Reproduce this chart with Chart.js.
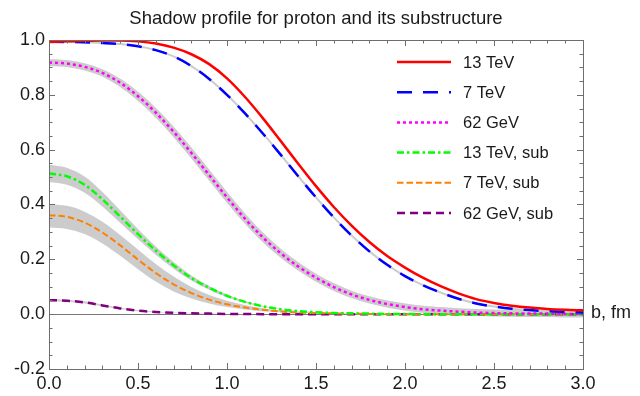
<!DOCTYPE html>
<html>
<head>
<meta charset="utf-8">
<script src="https://cdn.jsdelivr.net/npm/chart.js@4.4.1/dist/chart.umd.min.js"></script>
<style>
  html, body { margin: 0; padding: 0; background: #fff; }
  #profileChart { display: block; }
</style>
</head>
<body>
<canvas id="profileChart" width="640" height="396"></canvas>
<script>
// impact parameter b, fm
const bValues = [0.0, 0.1, 0.2, 0.3, 0.4, 0.5, 0.6, 0.7, 0.8, 0.9, 1.0, 1.1, 1.2, 1.3, 1.4, 1.5,
  1.6, 1.7, 1.8, 1.9, 2.0, 2.1, 2.2, 2.3, 2.4, 2.5, 2.6, 2.7, 2.8, 2.9, 3.0];

// full proton profiles
const tev13 = [0.993, 0.995, 0.997, 0.998, 0.998, 0.995, 0.987, 0.972, 0.948, 0.912, 0.860, 0.793, 0.716, 0.633, 0.549, 0.467,
  0.391, 0.323, 0.263, 0.212, 0.170, 0.133, 0.102, 0.076, 0.055, 0.041, 0.031, 0.024, 0.019, 0.016, 0.014];
const tev7 = [0.994, 0.993, 0.992, 0.989, 0.985, 0.977, 0.963, 0.940, 0.905, 0.858, 0.800, 0.733, 0.660, 0.583, 0.503, 0.426,
  0.353, 0.287, 0.229, 0.180, 0.139, 0.106, 0.079, 0.056, 0.039, 0.028, 0.020, 0.015, 0.011, 0.008, 0.006];
const gev62 = [0.918, 0.914, 0.902, 0.880, 0.844, 0.795, 0.735, 0.665, 0.588, 0.507, 0.426, 0.349, 0.281, 0.223, 0.174, 0.133,
  0.099, 0.072, 0.052, 0.037, 0.026, 0.018, 0.013, 0.009, 0.006, 0.004, 0.003, 0.002, 0.002, 0.001, 0.001];

// substructure profiles + error bands
const tev13Sub = [0.513, 0.503, 0.472, 0.419, 0.356, 0.292, 0.232, 0.178, 0.132, 0.096, 0.067, 0.045, 0.029, 0.018, 0.011, 0.007,
  0.004, 0.003, 0.002, 0.001, 0.001, 0, 0, 0, 0, 0, 0, 0, 0, 0, 0];
const tev13SubHi = [0.545, 0.534, 0.502, 0.446, 0.379, 0.311, 0.247, 0.190, 0.141, 0.103, 0.072, 0.048, 0.031, 0.019, 0.012, 0.008,
  0.005, 0.003, 0.002, 0.001, 0.001, 0, 0, 0, 0, 0, 0, 0, 0, 0, 0];
const tev13SubLo = [0.482, 0.472, 0.443, 0.393, 0.333, 0.273, 0.217, 0.166, 0.123, 0.089, 0.062, 0.042, 0.027, 0.017, 0.010, 0.006,
  0.004, 0.003, 0.002, 0.001, 0.001, 0, 0, 0, 0, 0, 0, 0, 0, 0, 0];

const tev7Sub = [0.361, 0.355, 0.334, 0.298, 0.251, 0.199, 0.150, 0.109, 0.077, 0.053, 0.036, 0.024, 0.016, 0.010, 0.006, 0.004,
  0.003, 0.002, 0.001, 0.001, 0, 0, 0, 0, 0, 0, 0, 0, 0, 0, 0];
const tev7SubHi = [0.401, 0.395, 0.374, 0.337, 0.289, 0.236, 0.183, 0.137, 0.099, 0.070, 0.049, 0.033, 0.022, 0.014, 0.009, 0.006,
  0.004, 0.003, 0.002, 0.001, 0.001, 0, 0, 0, 0, 0, 0, 0, 0, 0, 0];
const tev7SubLo = [0.316, 0.311, 0.292, 0.258, 0.213, 0.164, 0.119, 0.083, 0.057, 0.039, 0.026, 0.017, 0.011, 0.007, 0.004, 0.003,
  0.002, 0.001, 0.001, 0, 0, 0, 0, 0, 0, 0, 0, 0, 0, 0, 0];

const gev62Sub = [0.051, 0.049, 0.043, 0.032, 0.021, 0.013, 0.008, 0.005, 0.003, 0.002, 0.001, 0.001, 0, 0, 0, 0,
  0, 0, 0, 0, 0, 0, 0, 0, 0, 0, 0, 0, 0, 0, 0];
const gev62SubHi = [0.055, 0.053, 0.047, 0.035, 0.023, 0.015, 0.009, 0.006, 0.004, 0.002, 0.001, 0.001, 0, 0, 0, 0,
  0, 0, 0, 0, 0, 0, 0, 0, 0, 0, 0, 0, 0, 0, 0];
const gev62SubLo = [0.047, 0.045, 0.039, 0.029, 0.019, 0.011, 0.007, 0.004, 0.002, 0.001, 0.001, 0, 0, 0, 0, 0,
  0, 0, 0, 0, 0, 0, 0, 0, 0, 0, 0, 0, 0, 0, 0];

const xTickStep = 0.5;
const yTickStep = 0.2;

const FONT = '"Liberation Sans", Arial, sans-serif';
const BAND = "rgb(204,204,204)";

const pts = (arr) => arr.map((v, i) => ({ x: bValues[i], y: v }));

function line(label, data, color, width, dash) {
  return {
    label: label,
    data: pts(data),
    borderColor: color,
    borderWidth: width,
    borderDash: dash,
    borderCapStyle: "butt",
    pointRadius: 0,
    fill: false,
    cubicInterpolationMode: "monotone",
    order: 0,
    isMain: true,
  };
}

function bandEdge(data, fillTo) {
  return {
    label: "",
    data: pts(data),
    borderWidth: 0,
    borderColor: "rgba(0,0,0,0)",
    backgroundColor: BAND,
    pointRadius: 0,
    fill: fillTo,
    cubicInterpolationMode: "monotone",
    order: 5,
  };
}

function underlay(data, width) {
  return {
    label: "",
    data: pts(data),
    borderColor: BAND,
    borderWidth: width,
    pointRadius: 0,
    fill: false,
    cubicInterpolationMode: "monotone",
    order: 4,
  };
}

const datasets = [
  line("13 TeV", tev13, "rgb(255,0,0)", 2.5, []),
  line("7 TeV", tev7, "rgb(0,0,255)", 2.5, [15, 11]),
  line("62 GeV", gev62, "rgb(255,0,255)", 2.5, [3, 3]),
  line("13 TeV, sub", tev13Sub, "rgb(0,255,0)", 2.5, [7, 3, 2.5, 3]),
  line("7 TeV, sub", tev7Sub, "rgb(255,128,0)", 2, [6.5, 3]),
  line("62 GeV, sub", gev62Sub, "rgb(128,0,128)", 2.5, [8, 5]),
  bandEdge(tev13SubHi, "+1"),
  bandEdge(tev13SubLo, false),
  bandEdge(tev7SubHi, "+1"),
  bandEdge(tev7SubLo, false),
  bandEdge(gev62SubHi, "+1"),
  bandEdge(gev62SubLo, false),
  underlay(gev62, 7),
  underlay(tev7, 2),
];

// frame with inward ticks on all sides, zero line, legend and axis label
const frameDecor = {
  id: "frameDecor",
  beforeDatasetsDraw(chart) {
    const { ctx, chartArea: a, scales } = chart;
    const y0 = scales.y.getPixelForValue(0);
    ctx.save();
    ctx.strokeStyle = "#777";
    ctx.lineWidth = 1;
    ctx.beginPath();
    ctx.moveTo(a.left, Math.round(y0) + 0.5);
    ctx.lineTo(a.right, Math.round(y0) + 0.5);
    ctx.stroke();
    ctx.restore();
  },
  afterDatasetsDraw(chart) {
    const { ctx, chartArea: a, scales } = chart;
    ctx.save();
    ctx.strokeStyle = "#6e6e6e";
    ctx.lineWidth = 1;
    ctx.strokeRect(Math.round(a.left) + 0.5, Math.round(a.top) + 0.5,
      Math.round(a.right - a.left), Math.round(a.bottom - a.top));
    ctx.beginPath();
    for (let i = 0; i <= 30; i++) {
      const px = Math.round(scales.x.getPixelForValue(i / 10)) + 0.5;
      const len = i % 5 === 0 ? 6 : 3.5;
      ctx.moveTo(px, a.bottom); ctx.lineTo(px, a.bottom - len);
      ctx.moveTo(px, a.top); ctx.lineTo(px, a.top + len);
    }
    for (let i = -4; i <= 20; i++) {
      const py = Math.round(scales.y.getPixelForValue(i * 0.05)) + 0.5;
      const len = i % 4 === 0 ? 6 : 3.5;
      ctx.moveTo(a.left, py); ctx.lineTo(a.left + len, py);
      ctx.moveTo(a.right, py); ctx.lineTo(a.right - len, py);
    }
    ctx.stroke();
    ctx.restore();
  },
  afterDraw(chart) {
    const { ctx, chartArea: a, scales } = chart;
    ctx.save();
    // legend
    const mains = chart.data.datasets.filter((d) => d.isMain);
    ctx.font = "16.5px " + FONT;
    ctx.textBaseline = "middle";
    ctx.textAlign = "left";
    mains.forEach((ds, i) => {
      const y = 62 + i * 30.2;
      ctx.strokeStyle = ds.borderColor;
      ctx.lineWidth = ds.borderWidth;
      ctx.setLineDash(ds.borderDash);
      ctx.beginPath();
      ctx.moveTo(397, y);
      ctx.lineTo(451, y);
      ctx.stroke();
      ctx.setLineDash([]);
      ctx.fillStyle = "#1a1a1a";
      ctx.fillText(ds.label, 463, y + 1);
    });
    // axis label
    ctx.font = "18px " + FONT;
    ctx.fillText("b, fm", a.right + 8, scales.y.getPixelForValue(0) - 1);
    ctx.restore();
  },
};

const ctx = document.getElementById("profileChart").getContext("2d");

new Chart(ctx, {
  type: "line",
  data: { datasets: datasets },
  options: {
    responsive: false,
    animation: false,
    devicePixelRatio: 1,
    layout: { padding: { left: 0, right: 57, top: 0, bottom: 0 } },
    plugins: {
      legend: { display: false },
      tooltip: { enabled: false },
      title: {
        display: true,
        fullSize: false,
        text: "Shadow profile for proton and its substructure",
        color: "#1a1a1a",
        font: { family: FONT, size: 18.5, weight: "normal" },
        padding: { top: 8, bottom: 9.8 },
      },
    },
    scales: {
      x: {
        type: "linear",
        min: 0,
        max: 3,
        grid: { display: false, drawTicks: false },
        border: { display: false },
        ticks: {
          stepSize: xTickStep,
          maxRotation: 0,
          padding: 4,
          color: "#1a1a1a",
          font: { family: FONT, size: 18 },
          callback: (v) => v.toFixed(1),
        },
        afterFit: (s) => { s.height = 27; },
      },
      y: {
        min: -0.2,
        max: 1.0,
        grid: { display: false, drawTicks: false },
        border: { display: false },
        ticks: {
          stepSize: yTickStep,
          padding: 4,
          color: "#1a1a1a",
          font: { family: FONT, size: 18 },
          callback: (v) => (Math.abs(v) < 1e-9 ? 0 : v).toFixed(1),
        },
        afterFit: (s) => { s.width = 49; },
      },
    },
  },
  plugins: [frameDecor],
});
</script>
</body>
</html>
